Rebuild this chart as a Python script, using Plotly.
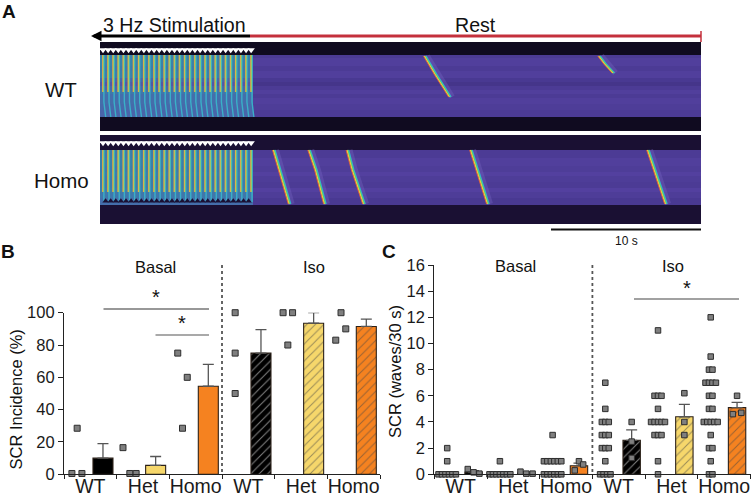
import plotly.graph_objects as go
from collections import Counter

W, H = 751, 496
FONT = "Liberation Sans"
def px(x): return x / W
def py(y): return 1 - y / H

# ---------- data ----------
GENOTYPES = ["WT", "Het", "Homo", "WT", "Het", "Homo"]
B_BARS = [10, 5.5, 54.5, 75, 93.5, 91.5]
B_ERR = [9, 5.5, 13.5, 14.5, 6.5, 4.5]
B_PTS_X = [[.15, .34, .25], [.12, .25, .37], [.16, .34, .25], [.25, .25, .25], [.16, .34, .25], [.16, .26, .35]]
B_PTS_Y = [[.5, .5, 28.5], [16.5, .5, .5], [75, 60, 28.5], [100, 75, 50], [100, 100, 80], [83, 100, 90]]

C_BARS = [0.17, 0.1, 0.65, 2.6, 4.4, 5.1]
C_ERR = [0.1, 0.08, 0.2, 0.8, 0.95, 0.4]
C_CELLS = [
    [2, 1, 0, 0, 0, 0, 0, 0],
    [1, 0, 0, 0, 0, 0, 0, 0],
    [3, 1, 1, 1, 1, 1, 1, 0, 0, 0, 0, 0, 0],
    [7, 5, 4, 4, 4, 3, 3, 3, 2, 2, 2, 1, 0, 0, 0, 0],
    [11, 6, 6, 6, 5, 4, 4, 4, 4, 4, 3, 3, 3, 1, 0],
    [12, 9, 8, 8, 7, 7, 7, 7, 6, 6, 5, 5, 4, 4, 4, 4, 4, 3, 2, 2, 1, 0, 0],
]
C_MICE_Y = [[.4, .15, .05], [.2, .05, .05], [1.0, .75, .3], [4, 2.5, 1.25], [6.2, 4, 3], [6, 4.6, 4.7]]
C_MICE_DX = [[-.11, 0, .11], [-.11, 0, .12], [0, .08, -.08], [0, 0, 0], [0, 0, 0], [0, -.08, .08]]

STIM_T = [0.2, 0.54, 0.88, 1.22, 1.56, 1.9, 2.24, 2.58, 2.92, 3.26, 3.6, 3.94, 4.28, 4.62, 4.96,
          5.3, 5.64, 5.98, 6.32, 6.66, 7.0, 7.34, 7.68, 8.02, 8.36, 8.7, 9.04, 9.38, 9.72, 10.06]
T_EDGES = [0, 10.15, 40]
WT_ROW_EDGES = [0, 13, 16, 24, 29, 36, 40, 44, 48, 52, 56, 62, 68, 75, 89]
WT_ROW_REST = [.02, .48, .50, .48, .50, .47, .44, .48, .50, .48, .50, .49, .48, .02]
WT_ROW_STIM = [.02, .80, .82, .78, .80, .70, .62, .70, .76, .72, .72, .70, .68, .02]
HOMO_ROW_EDGES = [93, 108, 116, 124, 130, 134, 140, 146, 150, 156, 163, 182]
HOMO_ROW_REST = [.08, .48, .50, .49, .51, .49, .48, .51, .49, .47, .08]
HOMO_ROW_STIM = [.08, .78, .80, .78, .80, .78, .78, .80, .76, .72, .08]
# sparks: time (s) and line position, top to bottom
WT_WAVES = [([21.6, 22.3, 23.27], [14, 32, 55]), ([33.2, 33.6, 34.15], [14, 22, 31])]
HOMO_WAVES = [([11.55, 11.95, 12.6], [108, 128, 162]), ([13.9, 14.35, 14.95], [108, 128, 162]),
              ([16.45, 16.8, 17.55], [108, 128, 162]), ([24.67, 25.1, 25.8], [108, 128, 162]),
              ([36.45, 36.9, 37.65], [108, 128, 162])]

fig = go.Figure()

# ---------- panel A ----------
A = dict(xaxis="x3", yaxis="y3")
SCALE = [[0, "#0c0919"], [.08, "#1a1033"], [.46, "#47378f"], [.54, "#5a46a8"], [.8, "#3a80ac"], [1, "#2f93b0"]]
for edges, rest, stim in [(WT_ROW_EDGES, WT_ROW_REST, WT_ROW_STIM), (HOMO_ROW_EDGES, HOMO_ROW_REST, HOMO_ROW_STIM)]:
    fig.add_trace(go.Heatmap(x=T_EDGES, y=edges, z=[[a, b] for a, b in zip(stim, rest)], zmin=0, zmax=1,
                             colorscale=SCALE, showscale=False, hoverinfo="skip", **A))

def polyline(paths, dx=0.0):
    xs, ys = [], []
    for tx, ty in paths:
        xs += [t + dx for t in tx] + [None]
        ys += list(ty) + [None]
    return xs, ys

def layers(paths, spec):
    for color, width, dx, op in spec:
        xs, ys = polyline(paths, dx)
        fig.add_trace(go.Scatter(x=xs, y=ys, mode="lines", line=dict(color=color, width=width), opacity=op,
                                 hoverinfo="skip", **A))

WAVE_SPEC = [("#7767c4", 6, .16, .35), ("#2fb4d0", 1.5, .09, 1), ("#56cf74", 1.2, .04, 1),
             ("#efe13c", 1.1, -.02, 1), ("#e8603a", .9, -.07, 1)]
layers(WT_WAVES + HOMO_WAVES, WAVE_SPEC)

STIM_SPEC_CYAN = [("#3ab0c8", 1.4, .06, 1)]
STIM_SPEC_CORE = [("#62c98a", 1.2, .02, 1), ("#e6d84a", .9, -.02, 1), ("#e88a3a", .6, -.04, .9)]
wt_tail = [([t, t, t + .12], [13, 60, 75]) for t in STIM_T]
wt_core = [([t, t], [13, 50]) for t in STIM_T]
homo_tail = [([t, t], [108, 160]) for t in STIM_T]
homo_core = [([t, t], [108, 150]) for t in STIM_T]
layers(wt_tail + homo_tail, STIM_SPEC_CYAN)
layers(wt_core + homo_core, STIM_SPEC_CORE)

for row_y in (8, 101):
    fig.add_trace(go.Scatter(x=STIM_T, y=[row_y] * len(STIM_T), mode="markers", hoverinfo="skip",
                             marker=dict(symbol="triangle-down", size=6.5, color="white", line=dict(width=0)), **A))
fig.add_trace(go.Scatter(x=[t + .17 for t in STIM_T[:-1]], y=[159] * 29, mode="markers", hoverinfo="skip",
                         marker=dict(symbol="triangle-up", size=5.5, color="#1a1033", line=dict(width=0)), **A))

# ---------- bars ----------
HATCH = ["", "", "", "/", "/", "/"]
BASE = ["#000000", "#f6d76b", "#f58220", "#000000", "#f6d76b", "#f58220"]
FG = ["#000000", "#f6d76b", "#f58220", "#aaaaaa", "#9a8230", "#7a3a08"]

def bars(vals, errs, centre, width, xa, ya):
    fig.add_trace(go.Bar(x=[i + centre for i in range(6)], y=vals, width=width, xaxis=xa, yaxis=ya,
                         marker=dict(color=BASE, line=dict(color="#2b2018", width=1.1),
                                     pattern=dict(shape=HATCH, fgcolor=FG, bgcolor=BASE, size=6, solidity=.18)),
                         error_y=dict(type="data", symmetric=False, array=errs, arrayminus=[0] * 6,
                                      color="#555555", thickness=1.3, width=5.5),
                         hoverinfo="skip"))

def squares(xs, ys, xa, ya, size=6):
    fig.add_trace(go.Scatter(x=xs, y=ys, mode="markers", xaxis=xa, yaxis=ya, cliponaxis=False, hoverinfo="skip",
                             marker=dict(symbol="square", size=size, color="#7f7f7f",
                                         line=dict(color="#2e2e2e", width=1))))

bars(B_BARS, B_ERR, .74, .38, "x", "y")
bx, by = [], []
for i, (ox, oy) in enumerate(zip(B_PTS_X, B_PTS_Y)):
    bx += [i + v for v in ox]
    by += oy
squares(bx, by, "x", "y")

bars(C_BARS, C_ERR, .745, .33, "x2", "y2")
cx, cy = [], []
for i, vals in enumerate(C_CELLS):
    counts = Counter(vals)
    for v, n in counts.items():
        for k in range(n):
            cx.append(i + .245 + (k - (n - 1) / 2) * .066)
            cy.append(v)
for i, (ys, ds) in enumerate(zip(C_MICE_Y, C_MICE_DX)):
    cx += [i + .745 + d for d in ds]
    cy += ys
squares(cx, cy, "x2", "y2", size=5.5)

# ---------- axes ----------
AX = dict(showgrid=False, zeroline=False, showline=True, linecolor="#222222", linewidth=1.2, automargin=False,
          tickcolor="#222222", tickwidth=1.2, ticks="outside", color="#1a1a1a", fixedrange=True)
def xax(dom):
    return dict(AX, domain=dom, range=[0, 6], tickmode="array", tickvals=[i + .5 for i in range(6)], ticktext=GENOTYPES,
                ticklen=0, tickfont=dict(size=19.5, family=FONT), ticklabelstandoff=-6,
                minor=dict(tickmode="array", tickvals=list(range(7)), ticks="outside", ticklen=4, tickcolor="#222222", tickwidth=1.2))
def yax(dom, rng, dt):
    return dict(AX, domain=dom, range=rng, dtick=dt, ticklen=5, tickfont=dict(size=16.5, family=FONT))

fig.update_layout(
    width=W, height=H, autosize=False, margin=dict(l=0, r=0, t=0, b=0), showlegend=False, barmode="overlay",
    paper_bgcolor="white", plot_bgcolor="white", font=dict(family=FONT, color="#1a1a1a"),
    xaxis=xax([px(64), px(380)]),
    yaxis=yax([py(474.3), py(312.7)], [0, 100], 20),
    xaxis2=dict(xax([px(434.3), px(750.5)]), anchor="y2"),
    yaxis2=dict(yax([py(474.3), py(265)], [0, 16], 2), anchor="x2"),
    xaxis3=dict(domain=[px(100), px(701)], range=[0, 40], visible=False, anchor="y3", fixedrange=True, automargin=False),
    yaxis3=dict(domain=[py(224), py(42)], range=[182, 0], visible=False, anchor="x3", fixedrange=True, automargin=False),
)

# ---------- annotations ----------
def text(x, y, s, size=16.5, bold=False, angle=0):
    fig.add_annotation(x=px(x), y=py(y), xref="paper", yref="paper", text=f"<b>{s}</b>" if bold else s, showarrow=False,
                       xanchor="center", yanchor="middle", textangle=angle,
                       font=dict(size=size, family=FONT, color="#111111"))
def rule(x0, y0, x1, y1, color="#333333", width=1.2, dash="solid"):
    fig.add_shape(type="line", xref="paper", yref="paper", x0=px(x0), y0=py(y0), x1=px(x1), y1=py(y1),
                  line=dict(color=color, width=width, dash=dash))

for x, y, s in [(8.5, 12, "A"), (8, 251, "B"), (388.5, 251, "C")]:
    text(x, y, s, 19, True)
text(174, 25, "3 Hz Stimulation", 19.6)
text(475, 25, "Rest", 19.6)
text(61, 89, "WT", 20.5)
text(61, 180, "Homo", 20.5)
text(626, 241, "10 s", 12)
text(155.5, 267, "Basal")
text(314, 267, "Iso")
text(515, 266, "Basal")
text(673, 266, "Iso")
text(156, 297, "*", 20)
text(182, 323, "*", 20)
text(687, 288, "*", 20)
text(15, 399.5, "SCR Incidence (%)", 16.5, angle=-90)
text(395, 372, "SCR (waves/30 s)", 16.5, angle=-90)

rule(97, 36, 250, 36, "#000000", 3)
rule(250, 36, 701, 36, "#c4303c", 3)
rule(701, 31, 701, 42, "#c4303c", 1.5)
fig.add_annotation(x=px(91), y=py(36), ax=9, ay=0, xref="paper", yref="paper",
                   text="", showarrow=True, arrowhead=2, arrowsize=.7, arrowwidth=3, arrowcolor="#000000")
rule(551, 229.5, 701, 229.5, "#111111", 1.8)
rule(222, 265, 222, 474, "#555555", 1.8, "dot")
rule(592.4, 265, 592.4, 474, "#555555", 1.8, "dot")
rule(103.5, 309, 209, 309)
rule(155.5, 335, 209, 335, "#555555")
rule(634, 299, 739, 299, "#444444")

fig.write_html("out.html", config=dict(displayModeBar=False),
               post_script="document.body.style.margin='0';document.documentElement.style.overflow='hidden';")
